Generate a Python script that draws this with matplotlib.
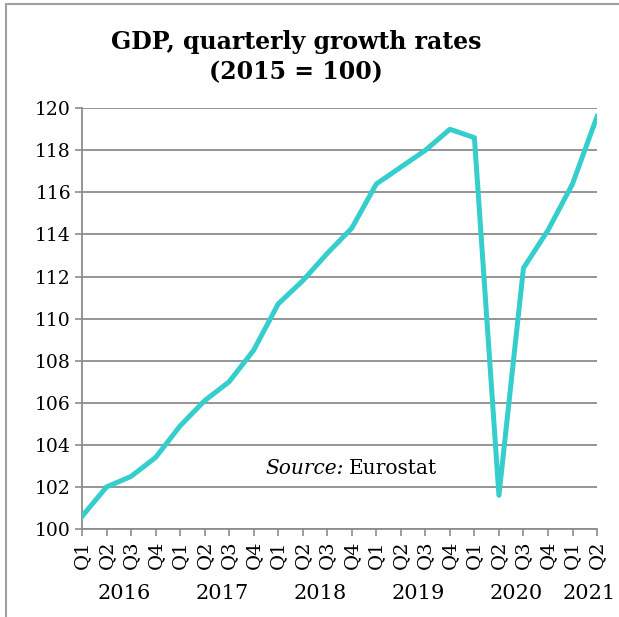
import matplotlib.pyplot as plt

# GDP index, quarterly, 2015 = 100
quarters = ["Q1", "Q2", "Q3", "Q4", "Q1", "Q2", "Q3", "Q4", "Q1", "Q2", "Q3",
            "Q4", "Q1", "Q2", "Q3", "Q4", "Q1", "Q2", "Q3", "Q4", "Q1", "Q2"]
years = ["2016", "2017", "2018", "2019", "2020", "2021"]
year_start = [0, 4, 8, 12, 16, 20]
year_len = [4, 4, 4, 4, 4, 2]
gdp = [100.6, 102.0, 102.5, 103.4, 104.9, 106.1, 107.0, 108.5, 110.7, 111.8,
       113.1, 114.3, 116.4, 117.2, 118.0, 119.0, 118.6, 101.6, 112.4, 114.2,
       116.4, 119.6]

plt.rcParams['font.family'] = ['DejaVu Serif']
grey = '#8c8c8c'

fig = plt.figure(figsize=(6.19, 6.17), dpi=100)
ax = fig.add_axes([0.1325, 0.1426, 0.832, 0.682])

x = list(range(len(gdp)))
ax.plot(x, gdp, color='#36cdcd', lw=3.6, solid_joinstyle='round', zorder=3)

ax.set_xlim(0, len(gdp) - 1)
ax.set_ylim(100, 120)
ax.set_yticks(range(100, 121, 2))
ax.set_xticks(x)
ax.set_xticklabels(quarters, rotation=90, fontsize=14)
ax.tick_params(axis='y', labelsize=13.5, length=5, color=grey, width=1.2, pad=3)
ax.tick_params(axis='x', length=5, color=grey, width=1.2, pad=3)
ax.grid(axis='y', color=grey, lw=1.3)
for s in ['top', 'right']:
    ax.spines[s].set_visible(False)
for s in ['left', 'bottom']:
    ax.spines[s].set_color(grey)
    ax.spines[s].set_linewidth(1.3)

# year labels under their quarters
for yr, st, n in zip(years, year_start, year_len):
    ax.text(st + (n - 1) / 2 + 0.2, -0.153, yr, transform=ax.get_xaxis_transform(),
            ha='center', va='center', fontsize=15)

fig.text(0.478, 0.932, "GDP, quarterly growth rates", ha='center', va='center',
         fontsize=17, fontweight='bold')
fig.text(0.478, 0.883, "(2015 = 100)", ha='center', va='center',
         fontsize=17, fontweight='bold')

src = fig.text(0.428, 0.240, "Source:", fontstyle='italic',
               fontsize=14.5, ha='left', va='center')
fig.add_artist(plt.Annotation("Eurostat", xy=(1, 0.5), xycoords=src,
                              xytext=(4, 0), textcoords='offset points',
                              fontsize=14.5, ha='left', va='center'))

# outer frame (left and top only)
fig.add_artist(plt.Line2D([0.009, 0.009], [0, 0.994], color='#a0a0a0', lw=1.5))
fig.add_artist(plt.Line2D([0.009, 1], [0.994, 0.994], color='#a0a0a0', lw=1.5))

fig.savefig('out.png', dpi=100)
